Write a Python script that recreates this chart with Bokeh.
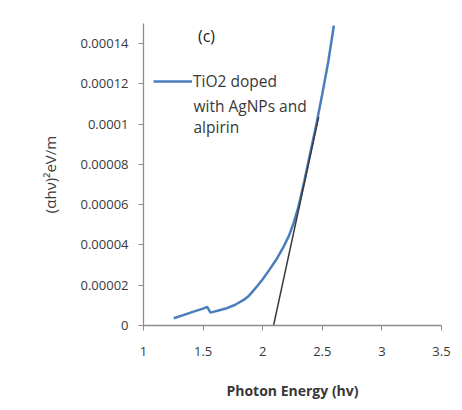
from bokeh.plotting import figure
from bokeh.models import Range1d, FixedTicker, Legend, LegendItem, Label
from bokeh.embed import file_html
from bokeh.resources import INLINE

# Data
energy = [1.254, 1.34, 1.42, 1.50, 1.534, 1.562, 1.62, 1.70, 1.77, 1.84, 1.88,
          1.92, 1.96, 2.00, 2.06, 2.12, 2.17, 2.22, 2.26, 2.30, 2.35, 2.40,
          2.45, 2.50, 2.55, 2.597]
alpha_hv_sq = [3.6e-6, 5.3e-6, 6.9e-6, 8.4e-6, 9.3e-6, 6.4e-6, 7.3e-6, 8.6e-6,
               1.03e-5, 1.27e-5, 1.45e-5, 1.72e-5, 2.0e-5, 2.3e-5, 2.8e-5,
               3.33e-5, 3.85e-5, 4.45e-5, 5.1e-5, 5.9e-5, 7.2e-5, 8.6e-5,
               1.0e-4, 1.15e-4, 1.31e-4, 1.49e-4]
tangent_x = [2.091, 2.47]
tangent_y = [0.0, 1.036e-4]

x_ticks = [1, 1.5, 2, 2.5, 3, 3.5]
x_tick_labels = ["1", "1.5", "2", "2.5", "3", "3.5"]
y_ticks = [0, 0.00002, 0.00004, 0.00006, 0.00008, 0.0001, 0.00012, 0.00014]
y_tick_labels = ["0", "0.00002", "0.00004", "0.00006", "0.00008", "0.0001",
                 "0.00012", "0.00014"]
series_name = ["TiO2 doped", "with AgNPs and", "alpirin"]

FONT = "Open Sans"
TXT = "#383838"
AX = "#8c8c8c"

p = figure(width=462, height=410, output_backend="svg", toolbar_location=None,
           x_range=Range1d(1, 3.5), y_range=Range1d(0, 0.00015),
           min_border_left=143, min_border_right=21, min_border_top=23,
           min_border_bottom=85)
p.outline_line_color = None
p.xgrid.grid_line_color = None
p.ygrid.grid_line_color = None
p.background_fill_color = "white"
p.border_fill_color = "white"

p.xaxis.ticker = FixedTicker(ticks=x_ticks)
p.xaxis.major_label_overrides = {t: l for t, l in zip(x_ticks, x_tick_labels)}
p.yaxis.ticker = FixedTicker(ticks=y_ticks)
p.yaxis.major_label_overrides = {t: l for t, l in zip(y_ticks, y_tick_labels)}

for ax in (p.xaxis, p.yaxis):
    ax.axis_line_color = AX
    ax.axis_line_width = 1.3
    ax.major_tick_line_color = AX
    ax.major_tick_out = 5
    ax.major_tick_in = 0
    ax.minor_tick_line_color = None
    ax.major_label_text_font = FONT
    ax.major_label_text_font_size = "13px"
    ax.major_label_text_color = TXT
    ax.axis_label_text_font = FONT
    ax.axis_label_text_color = TXT

p.xaxis.major_label_standoff = 16
p.yaxis.major_label_standoff = 10
p.xaxis.axis_label = "Photon Energy (hv)"
p.xaxis.axis_label_text_font_style = "bold"
p.xaxis.axis_label_text_font_size = "14px"
p.xaxis.axis_label_standoff = 22
p.yaxis.axis_label = "(\u03b1h\u03bd)\u00b2eV/m"
p.yaxis.axis_label_text_font_style = "normal"
p.yaxis.axis_label_text_font_size = "15px"
p.yaxis.axis_label_standoff = 17

curve = p.line(energy, alpha_hv_sq, line_color="#4a7ebb", line_width=2.5)
p.line(tangent_x, tangent_y, line_color="#3a3a3a", line_width=1.5)

legend = Legend(items=[LegendItem(label=series_name[0], renderers=[curve])],
                location=(10, 233), padding=0, margin=0, spacing=0,
                glyph_width=39, glyph_height=20, label_height=20,
                label_standoff=1, border_line_color=None,
                background_fill_alpha=0,
                label_text_font=FONT, label_text_font_size="15.5px",
                label_text_color=TXT)
p.add_layout(legend)

for i, txt in enumerate(series_name[1:]):
    p.add_layout(Label(x=50, y=302 - 82 - 21 * i, x_units="screen", y_units="screen",
                       text=txt, text_font=FONT, text_font_size="15.5px",
                       text_color=TXT, text_baseline="middle"))

p.add_layout(Label(x=63, y=302 - 23, x_units="screen", y_units="screen",
                   text="(c)", text_font=FONT, text_font_size="16px",
                   text_color="#222222", text_align="center",
                   text_baseline="bottom"))

open("out.html", "w").write(file_html(p, INLINE))
